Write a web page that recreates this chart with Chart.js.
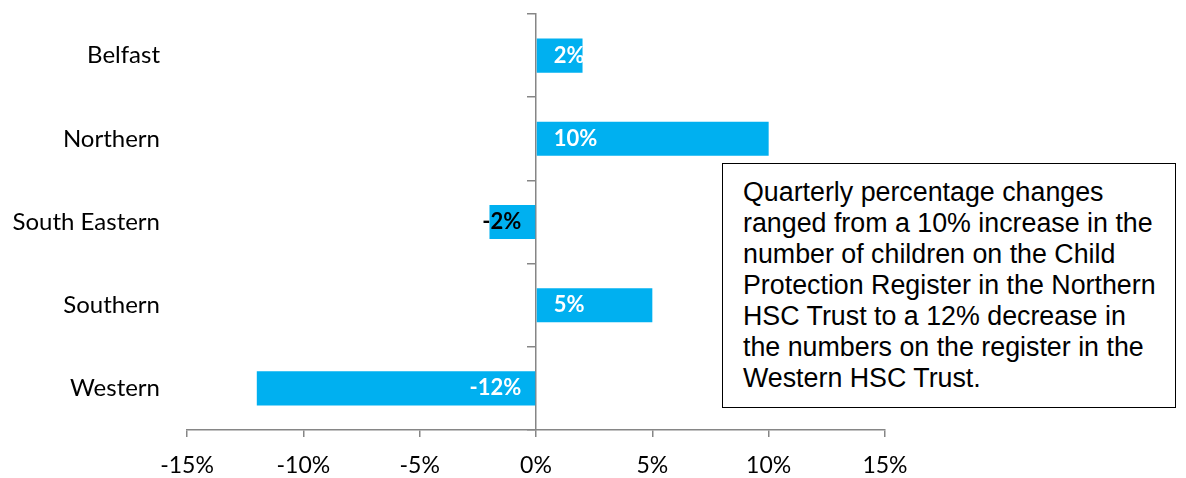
<!DOCTYPE html>
<html>
<head>
<meta charset="utf-8">
<script src="https://cdn.jsdelivr.net/npm/chart.js@4/dist/chart.umd.min.js"></script>
<style>
  html, body { margin: 0; padding: 0; background: #fff; }
  #wrap { position: relative; width: 1186px; height: 478px; }
  #note {
    position: absolute; left: 722px; top: 163px; width: 454px; height: 245px;
    box-sizing: border-box; border: 1.5px solid #000; background: #fff;
    padding: 13px 14px 0 20px;
    font-family: "Liberation Sans", Arial, sans-serif; font-size: 26.8px; line-height: 31px; color: #000;
  }
</style>
</head>
<body>
<div id="wrap">
  <canvas id="myChart"></canvas>
  <div id="note">Quarterly percentage changes ranged from a 10% increase in the number of children on the Child Protection Register in the Northern HSC Trust to a 12% decrease in the numbers on the register in the Western HSC Trust.</div>
</div>
<script>
/* DATA */
var trusts = ['Belfast', 'Northern', 'South Eastern', 'Southern', 'Western'];
var changes = [2, 10, -2, 5, -12];
var xTicks = [-15, -10, -5, 0, 5, 10, 15];

/* STYLE */
var barColor = '#00B0F0';
var axisColor = '#868686';
var labelColors = ['#fff', '#fff', '#000', '#fff', '#fff'];

/* DATA LABELS AT THE BASE OF EACH BAR */
var baseLabels = {
  id: 'baseLabels',
  afterDatasetsDraw: function(chart) {
    var ctx = chart.ctx;
    var meta = chart.getDatasetMeta(0);
    ctx.save();
    ctx.font = 'bold 22px Lato';
    ctx.textBaseline = 'middle';
    meta.data.forEach(function(bar, i) {
      var v = changes[i];
      ctx.fillStyle = labelColors[i];
      if (v >= 0) {
        ctx.textAlign = 'left';
        ctx.fillText(v + '%', bar.base + 17, bar.y);
      } else {
        ctx.textAlign = 'right';
        ctx.fillText(v + '%', bar.base - 14, bar.y);
      }
    });
    ctx.restore();
  }
};

function noVerticalPadding(scale) {
  scale.paddingTop = 0;
  scale.paddingBottom = 0;
}

function printChart() {
  var ctx = document.getElementById('myChart').getContext('2d');
  return new Chart(ctx, {
    type: 'bar',
    data: {
      labels: trusts,
      datasets: [{
        data: changes,
        backgroundColor: barColor,
        borderWidth: 0,
        categoryPercentage: 1,
        barPercentage: 0.41
      }]
    },
    options: {
      indexAxis: 'y',
      responsive: true,
      maintainAspectRatio: false,
      animation: false,
      layout: { padding: { top: 14, right: 301, left: 0, bottom: 0 } },
      plugins: { legend: { display: false }, tooltip: { enabled: false } },
      scales: {
        x: {
          min: -15, max: 15,
          afterBuildTicks: function(scale) {
            scale.ticks = xTicks.map(function(v) { return { value: v }; });
          },
          afterFit: function(scale) {
            scale.height = 48;
            scale.paddingLeft = 0;
            scale.paddingRight = 0;
          },
          grid: { drawOnChartArea: false, drawTicks: true, tickLength: 7, color: axisColor, lineWidth: 1.5 },
          border: { display: true, color: axisColor, width: 1.5 },
          ticks: {
            padding: 15,
            color: '#000',
            font: { family: 'Lato', size: 23 },
            callback: function(v) { return v + '%'; }
          }
        },
        y: {
          afterFit: function(scale) {
            scale.width = 187;
            noVerticalPadding(scale);
          },
          grid: { display: false },
          border: { display: false },
          ticks: { padding: 19, color: '#000', font: { family: 'Lato', size: 24 } }
        },
        yz: {
          type: 'category',
          labels: trusts,
          position: { x: 0 },
          offset: true,
          afterFit: noVerticalPadding,
          grid: { offset: true, drawOnChartArea: false, drawTicks: true, tickLength: 8, color: axisColor, lineWidth: 1.5 },
          border: { display: true, color: axisColor, width: 1.5 },
          ticks: { display: false }
        }
      }
    },
    plugins: [baseLabels]
  });
}

printChart();
</script>
</body>
</html>
